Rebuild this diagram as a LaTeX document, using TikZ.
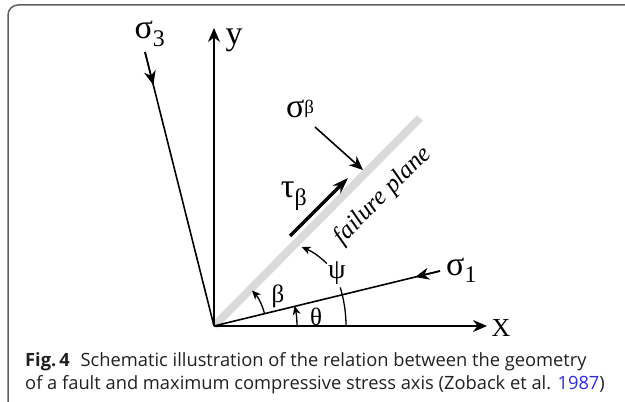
\documentclass[tikz,border=0pt]{standalone}
\usepackage{fontspec}
\setmainfont{Liberation Serif}
\newfontfamily\capfont{Open Sans}
\usetikzlibrary{calc,positioning,arrows.meta}
\definecolor{planegray}{RGB}{218,218,218}
\definecolor{framegray}{RGB}{95,95,95}
\definecolor{refblue}{RGB}{45,45,225}
\definecolor{captext}{RGB}{35,31,32}
\begin{document}
\begin{tikzpicture}[x=1pt,y=1pt,
  ax/.style={line width=1.6pt},
  tip/.style={-{Stealth[length=14pt,width=12pt]}},
  atip/.style={-{Stealth[length=9pt,width=8pt]}},
  lbl/.style={inner sep=0pt,font=\fontsize{34}{34}\selectfont},
  sm/.style={inner sep=0pt,font=\fontsize{25}{25}\selectfont},
  captxt/.style={inner sep=0pt,anchor=base west,text=captext,font=\capfont\fontsize{18.3}{18.3}\selectfont}]
  \useasboundingbox (0,0) rectangle (625,402);
  \draw[framegray,line width=1.5pt,rounded corners=10pt] (8,0) -- (8,397) -- (626,397);
  \coordinate (O) at (214,76);
  \coordinate (xe) at (487,76);
  \coordinate (ye) at (214,374);
  \coordinate (s3e) at (145,350);
  \coordinate (s1e) at (440,131);
  \coordinate (pe) at (420,284);
  \coordinate (sba) at (315,275);
  \coordinate (sbb) at (363,232);
  \coordinate (tba) at (290,166);
  \coordinate (tbb) at (348,224);
  \draw[planegray,line width=8pt] (O) -- (pe);
  \draw[ax,tip] (O) -- (xe);
  \draw[ax,tip] (O) -- (ye);
  \draw[ax] (O) -- (s3e);
  \draw[ax] (O) -- (s1e);
  \draw[ax,tip] (s3e) -- ($(s3e)!0.12!(O)$);
  \draw[ax,tip] (s1e) -- ($(s1e)!0.11!(O)$);
  \draw[ax,tip] (sba) -- (sbb);
  \draw[line width=3.2pt,-{Stealth[length=16pt,width=11pt]}] (tba) -- (tbb);
  \draw[line width=1.3pt,atip] ($(O)+(83,0)$) arc (0:14:83);
  \draw[line width=1.3pt,atip] ($(O)+(14:52)$) arc (14:43:52);
  \draw[line width=1.3pt] ($(O)+(132,0)$) arc (0:17:132);
  \draw[line width=1.3pt,atip] ($(O)+(29:129)$) to[bend right=10] ($(O)+(42:118)$);
  \node[lbl] (s3) at (150,368) {σ\textsubscript{3}};
  \node[lbl] (yl) at (234,362) {y};
  \node[lbl,font=\fontsize{26}{26}\selectfont] (xl) at (501,74) {X};
  \node[lbl,anchor=west] (s1) at (446,132) {σ\textsubscript{1}};
  \node[lbl] (sb) at (300,293) {σ\raisebox{4pt}{\fontsize{19}{19}\selectfont β}};
  \node[lbl] (tb) at (294,206) {τ\textsubscript{β}};
  \node[sm,rotate=45] (fp) at (383,206) {\itshape failure plane};
  \node[sm,font=\fontsize{28}{28}\selectfont] (psi) at (337,129) {ψ};
  \node[sm] (th) at (316,85) {θ};
  \node[sm] (be) at (278,106) {β};
  \node[captxt] (c1) at (25,35) {\textbf{Fig.\,4}\hspace{6pt} Schematic illustration of the relation between the geometry};
  \node[captxt] (c2) at (25,12) {of a fault and maximum compressive stress axis (Zoback et al. \textcolor{refblue}{1987})};
\end{tikzpicture}
\end{document}
